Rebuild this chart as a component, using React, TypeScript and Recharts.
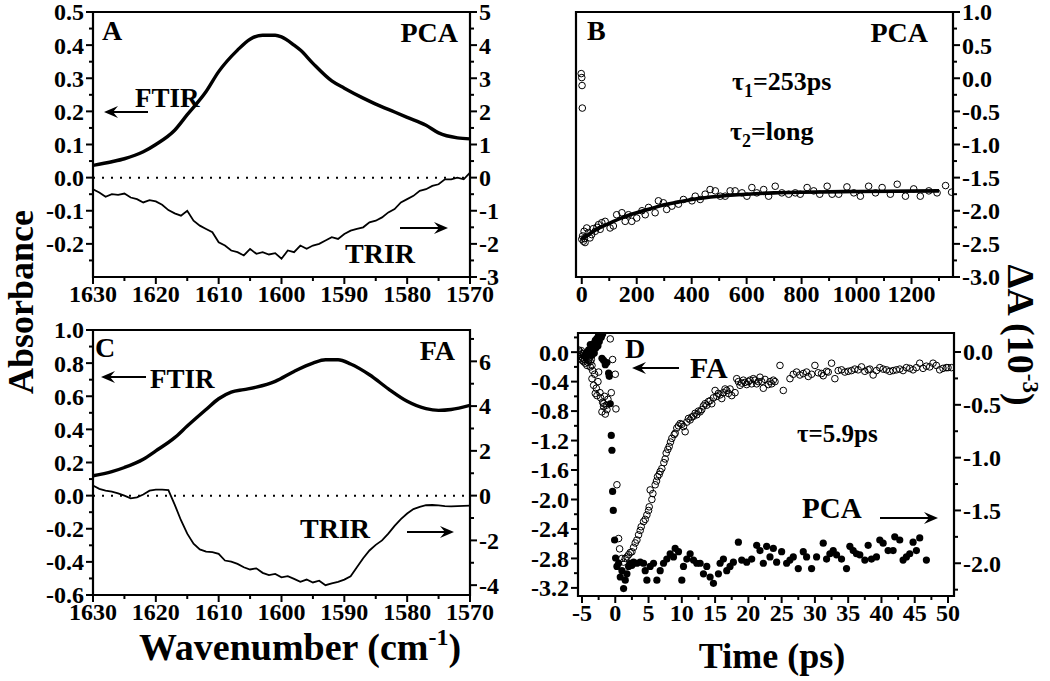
import React from "react";
import {
  ComposedChart,
  Line,
  Scatter,
  XAxis,
  YAxis,
  ReferenceLine,
  ReferenceArea,
} from "recharts";

const FONT = "'Liberation Serif', 'Times New Roman', serif";

// ---- wavenumber axis (panels A, C)
const wnTicks = [1570, 1575, 1580, 1585, 1590, 1595, 1600, 1605, 1610, 1615, 1620, 1625, 1630];
const wnLabels = [1570, 1580, 1590, 1600, 1610, 1620, 1630];

// ---- panel A: PCA
const ftirAWn = [1630, 1627, 1625, 1622, 1620, 1617, 1615, 1612, 1610, 1607, 1605, 1603, 1601, 1600, 1598, 1597, 1595, 1592, 1590, 1587, 1585, 1582, 1580, 1577, 1575, 1572, 1570];
const ftirAVal = [0.037, 0.048, 0.057, 0.078, 0.1, 0.143, 0.19, 0.26, 0.32, 0.385, 0.418, 0.43, 0.43, 0.425, 0.4, 0.385, 0.345, 0.292, 0.27, 0.24, 0.222, 0.198, 0.182, 0.158, 0.135, 0.12, 0.117];

const trirWn = [1630, 1629, 1628, 1627, 1626, 1625, 1624, 1623, 1622, 1621, 1620, 1619, 1618, 1617, 1616, 1615, 1614, 1613, 1612, 1611, 1610, 1609, 1608, 1607, 1606, 1605, 1604, 1603, 1602, 1601, 1600, 1599, 1598, 1597, 1596, 1595, 1594, 1593, 1592, 1591, 1590, 1589, 1588, 1587, 1586, 1585, 1584, 1583, 1582, 1581, 1580, 1579, 1578, 1577, 1576, 1575, 1574, 1573, 1572, 1571, 1570];
const trirAVal = [-0.35, -0.45, -0.58, -0.5, -0.52, -0.48, -0.6, -0.65, -0.75, -0.68, -0.72, -0.82, -0.98, -1.08, -1.15, -1.0, -1.3, -1.45, -1.55, -1.65, -1.95, -2.05, -2.2, -2.25, -2.35, -2.15, -2.3, -2.25, -2.32, -2.28, -2.45, -2.2, -2.25, -2.05, -2.15, -2.05, -2.0, -1.9, -1.8, -1.85, -1.7, -1.6, -1.55, -1.5, -1.35, -1.3, -1.2, -1.05, -0.95, -0.75, -0.65, -0.55, -0.4, -0.35, -0.25, -0.2, -0.05, -0.05, 0.0, -0.05, 0.15];

const aLeftTicks = [-0.25, -0.2, -0.15, -0.1, -0.05, 0, 0.05, 0.1, 0.15, 0.2, 0.25, 0.3, 0.35, 0.4, 0.45, 0.5];
const aLeftLabels = [-0.2, -0.1, 0, 0.1, 0.2, 0.3, 0.4, 0.5];
const aRightTicks = [-3, -2.5, -2, -1.5, -1, -0.5, 0, 0.5, 1, 1.5, 2, 2.5, 3, 3.5, 4, 4.5, 5];
const aRightLabels = [-3, -2, -1, 0, 1, 2, 3, 4, 5];

// ---- panel C: FA
const ftirCWn = [1630, 1627, 1625, 1622, 1620, 1617, 1615, 1612, 1610, 1608, 1606, 1604, 1601, 1598, 1595, 1593, 1591, 1589, 1586, 1583, 1580, 1577, 1575, 1573, 1570];
const ftirCVal = [0.12, 0.145, 0.17, 0.22, 0.27, 0.35, 0.42, 0.52, 0.585, 0.625, 0.64, 0.655, 0.69, 0.75, 0.8, 0.82, 0.82, 0.795, 0.73, 0.645, 0.57, 0.525, 0.515, 0.52, 0.545];
const trirCVal = [0.45, 0.3, 0.22, 0.18, 0.1, 0.0, -0.12, -0.08, 0.05, 0.22, 0.27, 0.27, 0.25, -0.4, -1.1, -1.7, -2.15, -2.4, -2.5, -2.52, -2.6, -2.9, -2.95, -3.05, -3.2, -3.3, -3.25, -3.45, -3.55, -3.5, -3.65, -3.6, -3.72, -3.85, -3.75, -3.88, -3.8, -4.0, -3.92, -3.85, -3.75, -3.6, -3.2, -2.8, -2.45, -2.2, -2.0, -1.7, -1.35, -1.05, -0.8, -0.6, -0.5, -0.43, -0.42, -0.44, -0.47, -0.48, -0.47, -0.46, -0.45];

const cLeftTicks = [-0.6, -0.5, -0.4, -0.3, -0.2, -0.1, 0, 0.1, 0.2, 0.3, 0.4, 0.5, 0.6, 0.7, 0.8, 0.9, 1.0];
const cLeftLabels = [-0.6, -0.4, -0.2, 0, 0.2, 0.4, 0.6, 0.8, 1.0];
const cRightTicks = [-4, -3, -2, -1, 0, 1, 2, 3, 4, 5, 6, 7];
const cRightLabels = [-4, -2, 0, 2, 4, 6];

// ---- panel B: PCA kinetics (long)
const bTime = [-2, 0, 1, 2, 0, 3, 6, 8.5, 10, 12, 18, 24, 30, 36, 42, 49, 55, 61, 67, 73, 85, 103, 115, 127, 146, 158, 170, 182, 200, 219, 231, 243, 267, 279, 297, 309, 328, 352, 370, 401, 413, 431, 449, 467, 486, 504, 522, 540, 558, 583, 601, 619, 637, 662, 680, 704, 728, 753, 777, 795, 820, 844, 866, 893, 911, 935, 965, 990, 1014, 1044, 1069, 1093, 1123, 1148, 1178, 1208, 1232, 1263, 1293, 1324, 1346];
const bSignal = [0.07, 0.01, -0.11, -0.45, -2.43, -2.38, -2.46, -2.31, -2.42, -2.48, -2.26, -2.33, -2.41, -2.36, -2.27, -2.31, -2.25, -2.21, -2.28, -2.18, -2.16, -2.26, -2.23, -2.06, -2.03, -2.16, -2.06, -2.16, -2.11, -2.0, -2.06, -1.95, -2.03, -1.85, -1.88, -1.98, -1.93, -1.9, -1.83, -1.85, -1.78, -1.83, -1.75, -1.68, -1.7, -1.78, -1.78, -1.7, -1.7, -1.73, -1.78, -1.65, -1.73, -1.68, -1.78, -1.63, -1.73, -1.75, -1.73, -1.75, -1.65, -1.7, -1.75, -1.63, -1.75, -1.75, -1.64, -1.73, -1.78, -1.63, -1.73, -1.65, -1.75, -1.6, -1.78, -1.67, -1.78, -1.7, -1.73, -1.62, -1.72];
const bFitTime = [0, 25, 50, 100, 150, 200, 250, 300, 350, 400, 500, 600, 700, 800, 1000, 1300];
const bFitVal = [-2.42, -2.36, -2.29, -2.19, -2.1, -2.03, -1.97, -1.91, -1.87, -1.83, -1.78, -1.75, -1.73, -1.72, -1.71, -1.7];

const bXTicks = [0, 100, 200, 300, 400, 500, 600, 700, 800, 900, 1000, 1100, 1200, 1300];
const bXLabels = [0, 200, 400, 600, 800, 1000, 1200];
const bRightTicks = [-3, -2.75, -2.5, -2.25, -2, -1.75, -1.5, -1.25, -1, -0.75, -0.5, -0.25, 0, 0.25, 0.5, 0.75, 1];
const bRightLabels = [-3, -2.5, -2, -1.5, -1, -0.5, 0, 0.5, 1];

// ---- panel D: FA (open, left axis) and PCA (filled, right axis), early time
const dFaTime = [-5.5, -5.5, -5.4, -5.25, -5.25, -5.1, -5.0, -5.0, -4.9, -4.75, -4.75, -4.6, -4.5, -4.5, -4.4, -4.25, -4.25, -4.1, -4.0, -4.0, -3.9, -3.75, -3.75, -3.6, -3.5, -3.5, -3.4, -3.25, -3.1, -3.0, -2.85, -2.75, -2.6, -2.5, -2.3, -2.2, -2.0, -1.9, -1.75, -1.75, -1.6, -1.5, -1.35, -1.25, -1.1, -0.75, -0.6, -0.4, 0.0, 0.1, 0.25, 0.5, 0.65, 1.0, 1.25, 1.5, 1.75, 2.0, 2.25, 2.5, 2.75, 3.0, 3.25, 3.5, 3.75, 3.9, 4.25, 4.5, 4.75, 5.0, 5.1, 5.25, 5.5, 5.65, 6.0, 6.2, 6.35, 6.6, 6.75, 7.0, 7.3, 7.5, 7.65, 7.9, 8.1, 8.3, 8.5, 8.85, 9.0, 9.25, 9.5, 9.75, 10.0, 10.25, 10.5, 10.75, 11.0, 11.25, 11.5, 11.75, 12.0, 12.25, 12.5, 12.75, 13.0, 13.25, 13.5, 13.75, 14.0, 14.25, 14.5, 14.75, 15.0, 15.25, 15.5, 15.75, 16.0, 16.25, 16.5, 16.75, 17.0, 17.25, 17.5, 18.0, 18.25, 18.5, 18.75, 19.0, 19.25, 19.5, 19.75, 20.0, 20.25, 20.5, 20.75, 21.0, 21.25, 21.5, 21.75, 22.0, 22.25, 22.5, 23.0, 23.25, 23.5, 23.75, 24.0, 24.75, 25.25, 26.25, 26.75, 27.25, 27.75, 28.25, 28.75, 29.0, 29.5, 30.0, 30.5, 31.0, 31.25, 31.75, 32.0, 32.5, 33.0, 33.5, 34.0, 34.5, 35.0, 35.5, 36.0, 36.5, 37.0, 37.5, 38.0, 38.25, 38.75, 39.25, 39.75, 40.25, 40.75, 41.25, 41.75, 42.25, 42.75, 43.25, 43.75, 44.25, 44.75, 45.25, 45.75, 46.25, 46.75, 47.25, 47.75, 48.25, 48.75, 49.25, 49.75, 50.0, 50.5];
const dFaVal = [0.03, -0.06, -0.03, 0.0, -0.09, 0.02, -0.02, -0.11, -0.08, -0.04, -0.13, -0.1, -0.06, -0.15, -0.02, -0.09, -0.18, -0.14, -0.11, -0.04, -0.08, -0.13, -0.2, -0.1, -0.18, -0.36, -0.25, -0.45, -0.3, -0.56, -0.49, -0.59, -0.4, -0.27, -0.55, -0.62, -0.81, -0.68, -0.74, -0.7, -0.6, -0.84, -0.72, -0.78, -0.64, 0.18, -0.55, -0.1, -0.3, -0.77, -1.8, -2.53, -2.67, -2.8, -2.85, -2.8, -2.78, -2.75, -2.72, -2.71, -2.65, -2.59, -2.55, -2.48, -2.42, -2.37, -2.3, -2.27, -2.21, -2.15, -2.1, -1.87, -2.0, -1.92, -1.8, -1.75, -1.69, -1.66, -1.62, -1.58, -1.5, -1.45, -1.37, -1.32, -1.28, -1.22, -1.17, -1.12, -1.1, -1.03, -1.0, -0.97, -0.98, -1.01, -1.08, -0.95, -0.9, -0.92, -0.88, -0.87, -0.83, -0.85, -0.8, -0.81, -0.78, -0.73, -0.7, -0.72, -0.67, -0.66, -0.7, -0.62, -0.52, -0.6, -0.56, -0.58, -0.63, -0.55, -0.5, -0.52, -0.56, -0.5, -0.59, -0.55, -0.36, -0.4, -0.45, -0.42, -0.38, -0.41, -0.44, -0.4, -0.38, -0.43, -0.36, -0.38, -0.43, -0.4, -0.34, -0.4, -0.49, -0.37, -0.44, -0.4, -0.43, -0.38, -0.4, -0.18, -0.52, -0.36, -0.3, -0.27, -0.31, -0.29, -0.27, -0.33, -0.3, -0.18, -0.28, -0.29, -0.32, -0.26, -0.27, -0.15, -0.36, -0.25, -0.24, -0.27, -0.26, -0.25, -0.23, -0.24, -0.2, -0.26, -0.24, -0.23, -0.31, -0.25, -0.21, -0.23, -0.24, -0.26, -0.25, -0.24, -0.23, -0.25, -0.21, -0.22, -0.24, -0.21, -0.15, -0.22, -0.19, -0.2, -0.15, -0.18, -0.24, -0.22, -0.21, -0.21, -0.21];

const dPcaTime = [-4.5, -4.25, -4.0, -3.75, -3.5, -3.5, -3.25, -3.15, -3.0, -2.9, -2.75, -2.6, -2.5, -2.4, -2.25, -2.1, -2.0, -1.9, -2.0, -1.75, -1.5, -1.25, -1.0, -0.9, -0.75, -0.6, -0.5, -0.4, -0.3, -0.1, 0.05, 0.25, 0.5, 0.75, 1.0, 1.25, 1.5, 1.75, 2.0, 2.25, 2.5, 2.75, 3.25, 3.75, 4.25, 4.5, 4.75, 5.25, 5.75, 6.25, 6.75, 7.25, 7.75, 8.25, 8.75, 9.0, 9.5, 10.0, 10.25, 10.75, 11.25, 11.75, 12.25, 12.75, 13.25, 13.75, 14.25, 14.75, 15.5, 15.75, 16.25, 16.75, 17.25, 17.75, 18.5, 19.0, 19.75, 20.5, 21.25, 21.75, 22.25, 22.75, 23.25, 23.75, 24.25, 25.0, 25.75, 26.25, 26.75, 27.5, 28.25, 28.75, 29.5, 30.25, 31.25, 31.75, 32.25, 32.75, 33.25, 34.0, 34.75, 35.25, 35.75, 36.25, 36.75, 37.5, 38.0, 38.5, 39.25, 39.75, 40.25, 41.0, 41.75, 42.0, 42.75, 43.25, 43.75, 44.25, 44.75, 45.25, 45.75, 46.75];
const dPcaVal = [-0.04, 0.0, 0.02, 0.07, 0.03, -0.03, 0.08, -0.01, 0.11, 0.04, 0.13, 0.06, 0.16, 0.1, 0.19, 0.14, 0.21, 0.17, -0.06, -0.08, -0.12, -0.1, -0.2, -0.23, -0.49, -0.79, -0.93, -1.32, -1.5, -1.78, -1.95, -2.03, -2.0, -2.13, -2.07, -2.24, -2.16, -2.1, -2.03, -2.0, -2.02, -1.99, -2.0, -1.99, -2.0, -2.07, -2.16, -2.03, -2.0, -2.16, -2.07, -2.0, -1.96, -1.91, -1.94, -1.86, -1.89, -2.16, -2.03, -1.96, -1.91, -1.97, -2.0, -2.0, -2.1, -2.03, -2.13, -2.19, -2.1, -2.0, -1.96, -2.07, -2.03, -1.99, -1.8, -1.97, -1.99, -1.96, -1.83, -1.88, -2.0, -1.84, -1.94, -1.86, -1.99, -1.89, -2.0, -1.97, -1.94, -2.05, -1.89, -1.94, -2.05, -1.94, -1.81, -1.96, -1.91, -1.88, -1.92, -1.96, -2.05, -1.84, -1.88, -1.91, -1.92, -1.97, -1.83, -1.96, -1.94, -1.78, -1.81, -1.88, -1.88, -1.75, -1.78, -1.97, -1.94, -1.91, -1.8, -1.88, -1.76, -1.97];

const dXTicks = [-5, -2.5, 0, 2.5, 5, 7.5, 10, 12.5, 15, 17.5, 20, 22.5, 25, 27.5, 30, 32.5, 35, 37.5, 40, 42.5, 45, 47.5, 50];
const dXLabels = [-5, 0, 5, 10, 15, 20, 25, 30, 35, 40, 45, 50];
const dLeftTicks = [-3.2, -3.0, -2.8, -2.6, -2.4, -2.2, -2.0, -1.8, -1.6, -1.4, -1.2, -1.0, -0.8, -0.6, -0.4, -0.2, 0, 0.2];
const dLeftLabels = [-3.2, -2.8, -2.4, -2.0, -1.6, -1.2, -0.8, -0.4, 0];
const dRightTicks = [-2.25, -2, -1.75, -1.5, -1.25, -1, -0.75, -0.5, -0.25, 0];
const dRightLabels = [-2, -1.5, -1, -0.5, 0];

const pairs = (xs: number[], ys: number[], xk: string) =>
  xs.map((x, i) => ({ [xk]: x, v: ys[i] }));

const ftirA = pairs(ftirAWn, ftirAVal, "w");
const trirA = pairs(trirWn, trirAVal, "w");
const ftirC = pairs(ftirCWn, ftirCVal, "w");
const trirC = pairs(trirWn, trirCVal, "w");
const bPts = pairs(bTime, bSignal, "t");
const bFit = pairs(bFitTime, bFitVal, "t");
const dFa = pairs(dFaTime, dFaVal, "t");
const dPca = pairs(dPcaTime, dPcaVal, "t");

const fix1 = (v: number) => v.toFixed(1);
const plain = (v: number) => String(v);

const tickText = { fontFamily: FONT, fontWeight: 700, fontSize: 24, fill: "#000" };

function makeTick(side: "left" | "right" | "bottom", labelled: number[], fmt: (v: number) => string) {
  return function TickMark(props: any) {
    const { x, y, payload } = props;
    const v = payload.value;
    const major = labelled.some((m) => Math.abs(m - v) < 1e-9);
    const len = major ? 7 : 4;
    if (side === "bottom") {
      return (
        <g>
          <line x1={x} x2={x} y1={y} y2={y + len} stroke="#000" strokeWidth={2} />
          {major && (
            <text x={x} y={y + 25} textAnchor="middle" style={tickText}>
              {fmt(v)}
            </text>
          )}
        </g>
      );
    }
    const dir = side === "left" ? -1 : 1;
    return (
      <g>
        <line x1={x} x2={x + dir * len} y1={y} y2={y} stroke="#000" strokeWidth={2} />
        {major && (
          <text x={x + dir * 9} y={y} dy="0.35em" textAnchor={side === "left" ? "end" : "start"} style={tickText}>
            {fmt(v)}
          </text>
        )}
      </g>
    );
  };
}

const axisCommon = {
  type: "number" as const,
  allowDataOverflow: true,
  interval: 0 as const,
  tickLine: false,
  axisLine: false,
  tickSize: 0,
  tickMargin: 0,
};

const OpenDot = (p: any) => <circle cx={p.cx} cy={p.cy} r={3.3} fill="none" stroke="#000" strokeWidth={1} />;
const FilledDot = (p: any) => <circle cx={p.cx} cy={p.cy} r={3.6} fill="#000" />;

function Arrow({ x1, x2, y }: { x1: number; x2: number; y: number }) {
  const d = x2 > x1 ? 1 : -1;
  return (
    <g>
      <line x1={x1} x2={x2 - d * 8} y1={y} y2={y} stroke="#000" strokeWidth={2.2} />
      <polygon points={`${x2},${y} ${x2 - d * 14},${y - 6} ${x2 - d * 9},${y} ${x2 - d * 14},${y + 6}`} fill="#000" />
    </g>
  );
}

function T({ x, y, size = 28, anchor = "start", children }: any) {
  return (
    <text x={x} y={y} textAnchor={anchor} style={{ fontFamily: FONT, fontWeight: 700, fontSize: size, fill: "#000" }}>
      {children}
    </text>
  );
}

export default function App() {
  return (
    <div style={{ position: "absolute", left: 0, top: 0, width: 1050, height: 681, background: "#fff" }}>
      {/* Panel A */}
      <div style={{ position: "absolute", left: 20, top: 0 }}>
        <ComposedChart width={510} height={311} margin={{ top: 12, right: 0, bottom: 0, left: 0 }}>
          <XAxis {...axisCommon} dataKey="w" domain={[1570, 1630]} reversed ticks={wnTicks} height={34} tick={makeTick("bottom", wnLabels, plain)} />
          <YAxis {...axisCommon} yAxisId="l" domain={[-0.3, 0.5]} ticks={aLeftTicks} width={73} tick={makeTick("left", aLeftLabels, fix1)} />
          <YAxis {...axisCommon} yAxisId="r" orientation="right" domain={[-3, 5]} ticks={aRightTicks} width={60} tick={makeTick("right", aRightLabels, plain)} />
          <ReferenceLine yAxisId="l" y={0} stroke="#000" strokeWidth={2} strokeDasharray="2 7" />
          <Line yAxisId="l" data={ftirA} dataKey="v" type="monotone" stroke="#000" strokeWidth={3.4} dot={false} isAnimationActive={false} />
          <Line yAxisId="r" data={trirA} dataKey="v" type="linear" stroke="#000" strokeWidth={1.8} dot={false} isAnimationActive={false} />
          <ReferenceArea yAxisId="l" x1={1570} x2={1630} y1={-0.3} y2={0.5} fill="none" stroke="#000" strokeWidth={2.2} />
        </ComposedChart>
      </div>

      {/* Panel B */}
      <div style={{ position: "absolute", left: 540, top: 0 }}>
        <ComposedChart width={480} height={311} margin={{ top: 12, right: 0, bottom: 0, left: 36 }}>
          <XAxis {...axisCommon} dataKey="t" domain={[-21, 1351]} ticks={bXTicks} height={34} tick={makeTick("bottom", bXLabels, plain)} />
          <YAxis {...axisCommon} yAxisId="r" orientation="right" domain={[-3, 1]} ticks={bRightTicks} width={67} tick={makeTick("right", bRightLabels, fix1)} />
          <Scatter yAxisId="r" data={bPts} dataKey="v" shape={OpenDot} isAnimationActive={false} />
          <Line yAxisId="r" data={bFit} dataKey="v" type="monotone" stroke="#000" strokeWidth={3.6} dot={false} isAnimationActive={false} />
          <ReferenceArea yAxisId="r" x1={-21} x2={1351} y1={-3} y2={1} fill="none" stroke="#000" strokeWidth={2.2} />
        </ComposedChart>
      </div>

      {/* Panel C */}
      <div style={{ position: "absolute", left: 20, top: 312 }}>
        <ComposedChart width={510} height={317} margin={{ top: 18, right: 0, bottom: 0, left: 0 }}>
          <XAxis {...axisCommon} dataKey="w" domain={[1570, 1630]} reversed ticks={wnTicks} height={34} tick={makeTick("bottom", wnLabels, plain)} />
          <YAxis {...axisCommon} yAxisId="l" domain={[-0.6, 1.0]} ticks={cLeftTicks} width={73} tick={makeTick("left", cLeftLabels, fix1)} />
          <YAxis {...axisCommon} yAxisId="r" orientation="right" domain={[-4.44, 7.4]} ticks={cRightTicks} width={60} tick={makeTick("right", cRightLabels, plain)} />
          <ReferenceLine yAxisId="l" y={0} stroke="#000" strokeWidth={2} strokeDasharray="2 7" />
          <Line yAxisId="l" data={ftirC} dataKey="v" type="monotone" stroke="#000" strokeWidth={3.4} dot={false} isAnimationActive={false} />
          <Line yAxisId="r" data={trirC} dataKey="v" type="linear" stroke="#000" strokeWidth={1.8} dot={false} isAnimationActive={false} />
          <ReferenceArea yAxisId="l" x1={1570} x2={1630} y1={-0.6} y2={1.0} fill="none" stroke="#000" strokeWidth={2.2} />
        </ComposedChart>
      </div>

      {/* Panel D */}
      <div style={{ position: "absolute", left: 515, top: 315 }}>
        <ComposedChart width={507} height={315} margin={{ top: 18, right: 0, bottom: 0, left: 0 }}>
          <XAxis {...axisCommon} dataKey="t" domain={[-5.6, 50.9]} ticks={dXTicks} height={34} tick={makeTick("bottom", dXLabels, plain)} />
          <YAxis {...axisCommon} yAxisId="l" domain={[-3.31, 0.26]} ticks={dLeftTicks} width={63} tick={makeTick("left", dLeftLabels, fix1)} />
          <YAxis {...axisCommon} yAxisId="r" orientation="right" domain={[-2.31, 0.18]} ticks={dRightTicks} width={68} tick={makeTick("right", dRightLabels, fix1)} />
          <Scatter yAxisId="l" data={dFa} dataKey="v" shape={OpenDot} isAnimationActive={false} />
          <Scatter yAxisId="r" data={dPca} dataKey="v" shape={FilledDot} isAnimationActive={false} />
          <ReferenceArea yAxisId="l" x1={-5.6} x2={50.9} y1={-3.31} y2={0.26} fill="none" stroke="#000" strokeWidth={2.2} />
        </ComposedChart>
      </div>

      {/* annotations */}
      <svg width={1050} height={681} style={{ position: "absolute", left: 0, top: 0, pointerEvents: "none" }}>
        <T x={102} y={40}>A</T>
        <T x={458} y={42} anchor="end">PCA</T>
        <T x={135} y={107} size={27}>FTIR</T>
        <Arrow x1={148} x2={104} y={112} />
        <T x={345} y={263}>TRIR</T>
        <Arrow x1={400} x2={448} y={228} />

        <T x={587} y={40}>B</T>
        <T x={928} y={42} anchor="end">PCA</T>
        <T x={732} y={90} size={26}>
          τ<tspan fontSize={18} dy={7}>1</tspan>
          <tspan dy={-7}>=253ps</tspan>
        </T>
        <T x={730} y={140} size={26}>
          τ<tspan fontSize={18} dy={7}>2</tspan>
          <tspan dy={-7}>=long</tspan>
        </T>

        <T x={95} y={357}>C</T>
        <T x={455} y={360} anchor="end">FA</T>
        <Arrow x1={146} x2={101} y={377} />
        <T x={150} y={388} size={27}>FTIR</T>
        <T x={300} y={538}>TRIR</T>
        <Arrow x1={407} x2={454} y={532} />

        <T x={625} y={358}>D</T>
        <Arrow x1={679} x2={632} y={368} />
        <T x={690} y={378} size={30}>FA</T>
        <T x={797} y={442} size={25}>τ=5.9ps</T>
        <T x={802} y={518} size={29}>PCA</T>
        <Arrow x1={880} x2={938} y={518} />

        <text x={33} y={302} transform="rotate(-90 33 302)" textAnchor="middle" style={{ fontFamily: FONT, fontWeight: 700, fontSize: 36, fill: "#000" }}>
          Absorbance
        </text>
        <text x={300} y={660} textAnchor="middle" style={{ fontFamily: FONT, fontWeight: 700, fontSize: 38, fill: "#000" }}>
          Wavenumber (cm<tspan fontSize={24} dy={-15}>-1</tspan>
          <tspan fontSize={38} dy={15}>)</tspan>
        </text>
        <text x={772} y={668} textAnchor="middle" style={{ fontFamily: FONT, fontWeight: 700, fontSize: 36, fill: "#000" }}>
          Time (ps)
        </text>
        <text x={1008} y={335} transform="rotate(90 1008 335)" textAnchor="middle" style={{ fontFamily: FONT, fontWeight: 700, fontSize: 38, fill: "#000" }}>
          ΔA (10<tspan fontSize={23} dy={-15}>-3</tspan>
          <tspan fontSize={38} dy={15}>)</tspan>
        </text>
      </svg>
    </div>
  );
}
